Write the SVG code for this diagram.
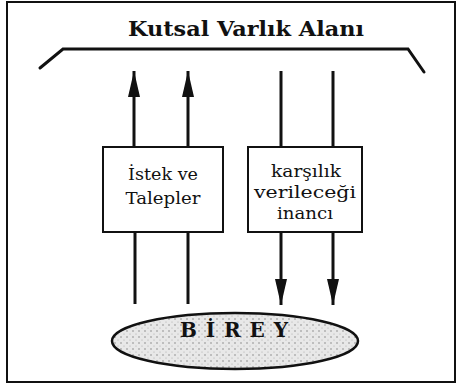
<svg xmlns="http://www.w3.org/2000/svg" width="457" height="387" viewBox="0 0 457 387">
<style>
.ln{stroke:#111;stroke-width:3;fill:none}
.box{fill:#fff;stroke:#111;stroke-width:2}
text{fill:#111;text-anchor:middle;font-family:"DejaVu Serif","Liberation Serif",serif}
.bt{font-size:17.5px}
</style>
<defs>
<marker id="ah" viewBox="0 0 26 12" refX="26" refY="6" markerWidth="26" markerHeight="12" markerUnits="userSpaceOnUse" orient="auto">
<path d="M0,0 L26,6 L0,12 Z" fill="#111"/>
</marker>
<pattern id="dots" width="6" height="6" patternUnits="userSpaceOnUse">
<rect width="6" height="6" fill="#e8e8e8"/>
<circle cx="1" cy="1" r="0.8" fill="#888"/>
<circle cx="4" cy="4" r="0.6" fill="#aaa"/>
</pattern>
</defs>
<rect x="7" y="2" width="448" height="380" fill="#fff" stroke="#111" stroke-width="2"/>
<g id="title">
<text x="246" y="36" font-size="21" font-weight="bold" textLength="236" lengthAdjust="spacingAndGlyphs">Kutsal Varlık Alanı</text>
<path class="ln" d="M40,68 L63,49 L408,49 L424,72" stroke-linecap="round"/>
</g>
<g id="connectors">
<line class="ln" x1="134" y1="147" x2="134" y2="71" marker-end="url(#ah)"/>
<line class="ln" x1="188" y1="147" x2="188" y2="71" marker-end="url(#ah)"/>
<line class="ln" x1="135" y1="232" x2="135" y2="304"/>
<line class="ln" x1="188" y1="232" x2="188" y2="304"/>
<line class="ln" x1="281" y1="71" x2="281" y2="147"/>
<line class="ln" x1="333" y1="71" x2="333" y2="147"/>
<line class="ln" x1="281" y1="232" x2="281" y2="305" marker-end="url(#ah)"/>
<line class="ln" x1="333" y1="232" x2="333" y2="305" marker-end="url(#ah)"/>
</g>
<g id="istek">
<rect class="box" x="103" y="147" width="120" height="85"/>
<text class="bt" x="163" y="180" textLength="70" lengthAdjust="spacingAndGlyphs">İstek ve</text>
<text class="bt" x="163" y="204" textLength="75" lengthAdjust="spacingAndGlyphs">Talepler</text>
</g>
<g id="karsilik">
<rect class="box" x="248" y="147" width="114" height="85"/>
<text class="bt" x="306" y="177" textLength="70" lengthAdjust="spacingAndGlyphs">karşılık</text>
<text class="bt" x="305" y="198" textLength="102" lengthAdjust="spacingAndGlyphs">verileceği</text>
<text class="bt" x="305" y="219" textLength="56" lengthAdjust="spacingAndGlyphs">inancı</text>
</g>
<g id="birey">
<ellipse cx="235" cy="341" rx="123" ry="28" fill="url(#dots)" stroke="#111" stroke-width="2.5"/>
<text x="234" y="337" font-size="20" font-weight="bold" textLength="108" lengthAdjust="spacing">BİREY</text>
</g>
</svg>
